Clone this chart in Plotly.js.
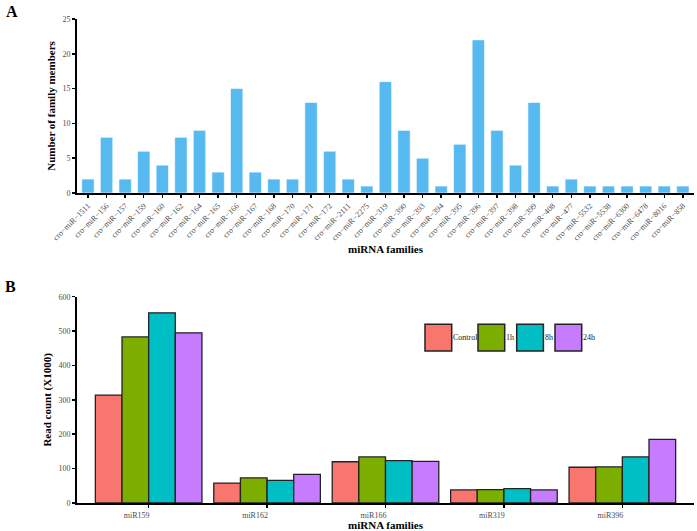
<!DOCTYPE html>
<html>
<head>
<meta charset="utf-8">
<script src="https://cdn.plot.ly/plotly-3.0.1.min.js"></script>
<style>html,body{margin:0;padding:0;background:#fff;}#chart{width:697px;height:531px;}</style>
</head>
<body>
<div id="chart"></div>
<script>
// Panel A data
const familyIds = ["1511","156","157","159","160","162","164","165","166","167","168","170","171","172","2111","2275","319","390","393","394","395","396","397","398","399","408","477","5532","5538","6300","6478","8016","858"];
const familyLabels = familyIds.map(function(s){ return "cro\u2212miR\u2212" + s; });
const familyMembers = [2,8,2,6,4,8,9,3,15,3,2,2,13,6,2,1,16,9,5,1,7,22,9,4,13,1,2,1,1,1,1,1,1];

// Panel B data
const readFamilies = ["miR159","miR162","miR166","miR319","miR396"];
const seriesNames = ["Control","1h","8h","24h"];
const readControl = [314, 58, 120, 38, 104];
const read1h = [483, 73, 134, 39, 105];
const read8h = [553, 66, 123, 42, 134];
const read24h = [495, 83, 121, 38, 185];
const seriesValues = [readControl, read1h, read8h, read24h];
const seriesColors = ["#F8766D","#7CAE00","#00BFC4","#C77CFF"];

const FONT = "Liberation Serif";

const traces = [{
  type: "bar", x: familyLabels, y: familyMembers, xaxis: "x", yaxis: "y",
  width: 0.667,
  marker: {color: "#56B9F0", line: {color: "#ffffff", width: 0.6}},
  showlegend: false, hoverinfo: "x+y"
}];
seriesNames.forEach(function(n, i){
  traces.push({
    type: "bar", name: n, x: readFamilies, y: seriesValues[i], xaxis: "x2", yaxis: "y2",
    marker: {color: seriesColors[i], line: {color: "#222222", width: 1.3}},
    showlegend: false
  });
});

// geometry helpers (pixel -> paper) for decorations
const L = 77, R = 3, T = 19, B = 28, W = 697, H = 531;
const PW = W - L - R, PH = H - T - B;
function px(x){ return (x - L) / PW; }
function py(y){ return (H - B - y) / PH; }

const axisCommon = {
  showgrid: false, zeroline: false, showline: true, linecolor: "#000", linewidth: 2,
  ticks: "outside", ticklen: 3, tickwidth: 1.5, tickcolor: "#000",
  tickfont: {family: FONT, size: 8, color: "#4d4d4d"}
};

const shapes = [], annotations = [];
// custom legend for panel B
const legLeft = [425, 478, 516.7, 555];
const boxW = 26.7, boxTop = 324.3, boxBot = 351;
seriesNames.forEach(function(n, i){
  shapes.push({type: "rect", xref: "paper", yref: "paper",
    x0: px(legLeft[i]), x1: px(legLeft[i] + boxW), y0: py(boxBot), y1: py(boxTop),
    fillcolor: seriesColors[i], line: {color: "#222222", width: 1.5}});
  annotations.push({xref: "paper", yref: "paper", x: px(legLeft[i] + boxW + 0.5), y: py((boxTop + boxBot) / 2),
    xanchor: "left", yanchor: "middle", text: n, showarrow: false, borderpad: 0,
    font: {family: FONT, size: 8, color: "#1a1a1a"}});
});
annotations.push({xref: "paper", yref: "paper", x: px(4), y: py(11), xanchor: "left", yanchor: "middle",
  text: "A", showarrow: false, font: {family: FONT, size: 16, color: "#000", weight: "bold"}});
annotations.push({xref: "paper", yref: "paper", x: px(3), y: py(287), xanchor: "left", yanchor: "middle",
  text: "B", showarrow: false, font: {family: FONT, size: 16, color: "#000", weight: "bold"}});

const titleFont = {family: FONT, size: 11, color: "#000", weight: "bold"};

const layout = {
  width: W, height: H,
  margin: {l: L, r: R, t: T, b: B},
  paper_bgcolor: "#fff", plot_bgcolor: "#fff",
  font: {family: FONT},
  bargap: 0.1,
  bargroupgap: 0,
  barmode: "group",
  xaxis: Object.assign({}, axisCommon, {
    anchor: "y", domain: [0, 1], type: "category", range: [-0.59, 32.6],
    tickangle: -45, tickfont: {family: FONT, size: 8, color: "#4d4d4d"},
    title: {text: "miRNA families", font: titleFont, standoff: 3}
  }),
  yaxis: Object.assign({}, axisCommon, {
    anchor: "x", domain: [py(193), 1], range: [0, 25], dtick: 5,
    title: {text: "Number of family members", font: titleFont, standoff: 5}
  }),
  xaxis2: Object.assign({}, axisCommon, {
    anchor: "y2", domain: [0, 1], type: "category", range: [-0.605, 4.605],
    ticklabelshift: -12,
    title: {text: "miRNA families", font: titleFont, standoff: 4}
  }),
  yaxis2: Object.assign({}, axisCommon, {
    anchor: "x2", domain: [0, py(296.7)], range: [0, 600], dtick: 100,
    title: {text: "Read count (X1000)", font: titleFont, standoff: 5}
  }),
  shapes: shapes,
  annotations: annotations,
  showlegend: false
};

Plotly.newPlot("chart", traces, layout, {displayModeBar: false, staticPlot: true});
</script>
</body>
</html>
